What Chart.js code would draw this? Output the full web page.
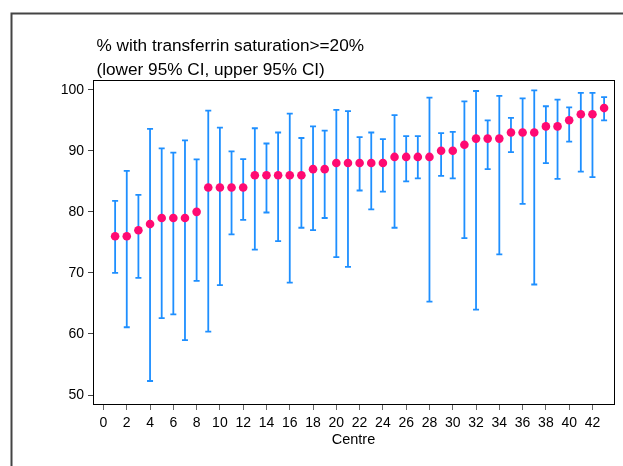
<!DOCTYPE html>
<html>
<head>
<meta charset="utf-8">
<script src="https://cdn.jsdelivr.net/npm/chart.js@4/dist/chart.umd.min.js"></script>
<style>
  html, body { margin: 0; padding: 0; background: #ffffff; }
  #wrap { width: 623px; height: 466px; position: relative; }
</style>
</head>
<body>
<div id="wrap"><canvas id="c" width="623" height="466"></canvas></div>
<script>
// ---- data ----
const centres = [1,2,3,4,5,6,7,8,9,10,11,12,13,14,15,16,17,18,19,20,21,22,23,24,25,26,27,28,29,30,31,32,33,34,35,36,37,38,39,40,41,42,43];
const pctTsat = [76,76,77,78,79,79,79,80,84,84,84,84,86,86,86,86,86,87,87,88,88,88,88,88,89,89,89,89,90,90,91,92,92,92,93,93,93,94,94,95,96,96,97];
const lowerCI = [70.0,61.1,69.2,52.3,62.6,63.2,59.0,68.7,60.4,68.0,76.3,78.7,73.8,79.9,75.2,68.4,77.4,77.0,79.0,72.6,71.0,83.5,80.4,83.3,77.4,85.0,85.5,65.3,85.9,85.5,75.7,64.0,87.0,73.05,89.8,81.3,68.1,88.0,85.4,91.5,86.6,85.7,95.0];
const upperCI = [81.8,86.7,82.8,93.6,90.4,89.7,91.7,88.6,96.6,93.8,89.9,88.65,93.7,91.2,93.0,96.1,92.1,94.0,93.3,96.7,96.5,92.25,93.0,91.9,95.85,92.4,92.4,98.7,92.9,93.1,98.1,99.8,95.0,99.0,95.4,98.6,99.9,97.3,98.4,97.1,99.5,99.5,98.8];
const xTickValues = [0,2,4,6,8,10,12,14,16,18,20,22,24,26,28,30,32,34,36,38,40,42];
const yTickValues = [50,60,70,80,90,100];
const titleLines = ['% with transferrin saturation>=20%', '(lower 95% CI, upper 95% CI)'];
const xTitle = 'Centre';

const FONT = "'Liberation Sans', Arial, Helvetica, sans-serif";
const BAR_COLOR = '#1e8fff';
const POINT_COLOR = '#ff0a72';

const errorBars = {
  id: 'errorBars',
  beforeDatasetsDraw(chart) {
    const { ctx, scales: { x, y } } = chart;
    ctx.save();
    ctx.strokeStyle = BAR_COLOR;
    ctx.lineWidth = 1.8;
    const cap = 3;
    centres.forEach((c, i) => {
      const px = x.getPixelForValue(c);
      const pl = y.getPixelForValue(lowerCI[i]);
      const pu = y.getPixelForValue(upperCI[i]);
      ctx.beginPath();
      ctx.moveTo(px, pl); ctx.lineTo(px, pu);
      ctx.moveTo(px - cap, pl); ctx.lineTo(px + cap, pl);
      ctx.moveTo(px - cap, pu); ctx.lineTo(px + cap, pu);
      ctx.stroke();
    });
    ctx.restore();
  }
};

const frames = {
  id: 'frames',
  afterDraw(chart) {
    const { ctx, chartArea: a } = chart;
    ctx.save();
    // plot region frame
    ctx.strokeStyle = '#000000';
    ctx.lineWidth = 1;
    ctx.strokeRect(Math.round(a.left) + 0.5, Math.round(a.top) + 0.5, Math.round(a.right - a.left), Math.round(a.bottom - a.top));
    // outer graph frame
    ctx.strokeStyle = '#444444';
    ctx.lineWidth = 2;
    ctx.strokeRect(11.5, 13.5, 700, 600);
    // title lines
    ctx.fillStyle = '#000000';
    ctx.font = '17.2px ' + FONT;
    ctx.textBaseline = 'alphabetic';
    ctx.textAlign = 'left';
    ctx.fillText(titleLines[0], a.left + 3.5, 51);
    ctx.fillText(titleLines[1], a.left + 3.5, 74.5);
    ctx.restore();
  }
};

new Chart(document.getElementById('c'), {
  type: 'scatter',
  data: {
    datasets: [{
      data: centres.map((c, i) => ({ x: c, y: pctTsat[i] })),
      backgroundColor: POINT_COLOR,
      borderColor: POINT_COLOR,
      pointRadius: 4.3,
      pointBorderWidth: 0,
      showLine: false
    }]
  },
  options: {
    responsive: false,
    animation: false,
    layout: { padding: { left: 0, top: 80, right: 9, bottom: 0 } },
    plugins: { legend: { display: false }, tooltip: { enabled: false }, title: { display: false } },
    scales: {
      x: {
        type: 'linear',
        min: -0.9,
        max: 43.85,
        afterBuildTicks: (s) => { s.ticks = xTickValues.map(v => ({ value: v })); },
        afterFit: (s) => { s.height = 62; },
        border: { display: false },
        grid: { drawOnChartArea: false, drawTicks: true, tickLength: 6, tickColor: '#666666' },
        ticks: { color: '#000000', font: { family: FONT, size: 14 }, padding: 5, maxRotation: 0, autoSkip: false },
        title: { display: true, text: xTitle, color: '#000000', font: { family: FONT, size: 14.5 }, padding: { top: 0, bottom: 17 } }
      },
      y: {
        type: 'linear',
        min: 48.53,
        max: 101.6,
        afterBuildTicks: (s) => { s.ticks = yTickValues.map(v => ({ value: v })); },
        afterFit: (s) => { s.width = 93; },
        border: { display: false },
        grid: { drawOnChartArea: false, drawTicks: true, tickLength: 5, tickColor: '#444444' },
        ticks: { color: '#000000', font: { family: FONT, size: 14 }, padding: 4, autoSkip: false }
      }
    }
  },
  plugins: [errorBars, frames]
});
</script>
</body>
</html>
